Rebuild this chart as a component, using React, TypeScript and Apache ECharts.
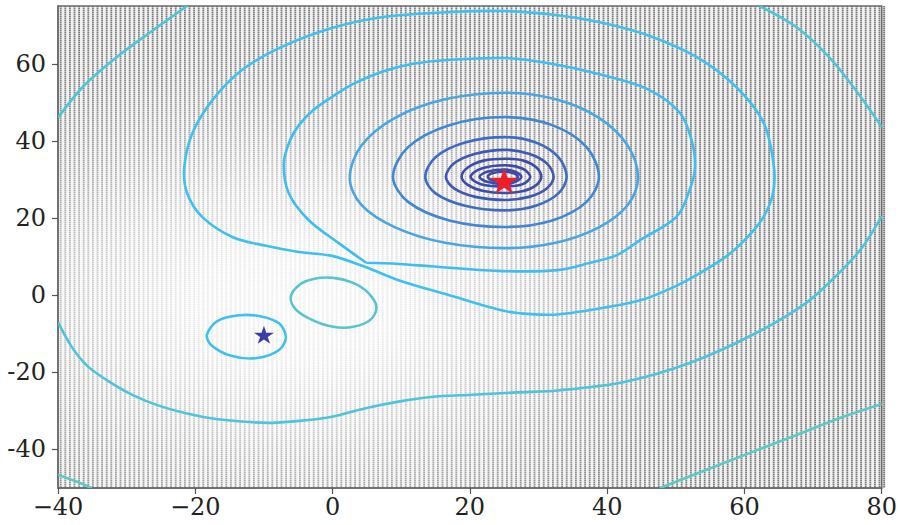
import React, { useEffect, useRef } from "react";
import * as echarts from "echarts";

// ---------- axis ranges & ticks ----------
const xRange = [-40, 80];
const yRange = [-50, 75];
const xTickStep = 20;
const yTickValues = [-40, -20, 0, 20, 40, 60];

// ---------- markers ----------
const redStar = [[25, 30]];
const blueStar = [[-10, -10]];

// ---------- contour lines (data coordinates) ----------
const lowerRightArc = [[47.7, -50], [57.0, -43.5], [66.5, -37.0], [74.3, -31.6], [80, -28.2]];
const bottomLeftArc = [[-40, -46.6], [-37.5, -48.2], [-35.1, -50]];
const topLeftArc = [[-40, 46.0], [-36.4, 54.0], [-31.4, 61.8], [-26.7, 68.0], [-21.2, 75]];
const topRightArc = [[62.2, 75], [67.5, 69.6], [72.3, 61.8], [76.2, 53.2], [80, 43.6]];
const lowerCurve = [
  [-40, -7.0], [-38.0, -13.4], [-35.7, -18.4], [-32.9, -22.0], [-29.1, -25.9], [-25.2, -28.7],
  [-20.9, -30.8], [-17.0, -32.1], [-12.2, -32.9], [-8.8, -33.1], [-4.9, -32.6], [-0.1, -31.5],
  [4.8, -29.3], [9.6, -27.6], [14.3, -26.4], [20.4, -25.8], [27.0, -25.2], [32.8, -24.7],
  [42.5, -22.5], [52.0, -17.6], [61.7, -9.8], [69.0, -2.0], [73.8, 5.8], [77.2, 12.5], [80, 20.5],
];
const ovalNearOrigin = [
  [-6.1, -0.5], [-4.9, 2.6], [-2.8, 4.2], [0.1, 4.5], [3.0, 3.2], [5.2, 0.6], [6.4, -3.1],
  [5.5, -6.4], [3.0, -8.2], [0.1, -8.2], [-3.0, -6.4], [-5.4, -3.6],
];
const ovalBlueStar = [
  [-18.3, -10.3], [-16.8, -6.7], [-13.6, -5.2], [-10.4, -5.5], [-7.8, -7.3], [-6.8, -10.9],
  [-7.8, -14.2], [-11.0, -16.3], [-14.8, -15.7], [-17.7, -12.9],
];
const ringC1 = [
  [-21.6, 33.2], [-20.4, 42.1], [-17.5, 50.6], [-13.2, 58.4], [-7.4, 64.4], [-0.1, 69.3],
  [7.1, 72.1], [16.8, 73.4], [25.1, 73.7], [32.8, 72.6], [38.6, 70.9], [45.8, 67.5],
  [53.0, 61.8], [58.8, 54.0], [62.8, 44.7], [64.3, 33.2], [64.1, 26.0], [62.5, 19.5],
  [59.6, 13.5], [57.0, 9.6], [53.0, 5.2], [49.7, 2.1], [45.1, -1.2], [40.0, -3.1],
  [32.8, -5.0], [28.8, -4.9], [25.1, -4.1], [16.8, 0.1], [9.6, 3.9], [4.8, 7.3],
  [-0.1, 10.2], [-4.9, 11.2], [-9.7, 12.8], [-14.6, 15.1], [-19.0, 20.3], [-21.2, 26.5],
];
// starts and ends at the cusp
const loopC2 = [
  [4.9, 8.4], [9.6, 8.1], [14.3, 7.5], [24.1, 6.3], [32.8, 6.5], [37.5, 8.4], [41.4, 10.4],
  [44.8, 14.3], [50.1, 20.3], [52.0, 27.2], [52.8, 33.2], [52.3, 40.2], [50.6, 47.3],
  [45.8, 53.5], [38.6, 57.4], [31.3, 60.2], [25.1, 61.5], [16.8, 61.0], [11.7, 60.0],
  [7.1, 57.9], [3.0, 54.8], [-0.1, 51.4], [-2.8, 48.0], [-4.9, 44.1], [-6.2, 40.2],
  [-7.1, 34.3], [-6.4, 26.5], [-3.5, 19.5], [0.9, 13.5], [4.9, 8.4],
];
const ringC3 = [
  [44.5, 30.4], [43.0, 38.8], [38.8, 46.0], [32.5, 50.8], [25.1, 52.5], [16.4, 50.8],
  [9.1, 46.0], [4.2, 38.8], [2.5, 30.4], [4.2, 23.4], [9.1, 17.6], [16.4, 13.6],
  [25.1, 12.2], [32.5, 13.6], [38.8, 17.6], [43.0, 23.4],
];
const ringC4 = [
  [38.8, 30.7], [37.0, 38.4], [32.0, 44.1], [25.1, 46.2], [17.0, 44.1], [11.0, 38.4],
  [8.8, 30.7], [11.0, 24.2], [17.0, 19.4], [25.1, 17.7], [32.0, 19.4], [37.0, 24.2],
];
const ringC5 = [
  [34.1, 30.7], [32.9, 35.8], [29.6, 39.6], [25.1, 41.0], [19.3, 39.6], [15.0, 35.8],
  [13.5, 30.7], [15.0, 26.4], [19.3, 23.2], [25.1, 22.0], [29.6, 23.2], [32.9, 26.4],
];
const ringC6 = [
  [32.2, 30.7], [31.2, 34.2], [28.6, 36.7], [25.1, 37.7], [20.8, 36.7], [17.7, 34.2],
  [16.5, 30.7], [17.7, 27.7], [20.8, 25.5], [25.1, 24.7], [28.6, 25.5], [31.2, 27.7],
];
const ringC7 = [
  [30.4, 30.7], [29.7, 33.1], [27.8, 34.9], [25.1, 35.4], [22.0, 34.9], [19.7, 33.1],
  [18.8, 30.7], [19.7, 28.6], [22.0, 27.0], [25.1, 26.5], [27.8, 27.0], [29.7, 28.6],
];
const ringC8 = [
  [28.8, 30.7], [27.7, 32.8], [25.1, 33.7], [21.6, 32.8], [20.1, 30.7], [21.6, 28.8],
  [25.1, 28.2], [27.7, 28.8],
];
const ringC9 = [
  [27.5, 30.7], [26.6, 32.0], [25.1, 32.6], [22.5, 32.0], [21.4, 30.7], [22.5, 29.4],
  [25.1, 28.8], [26.6, 29.4],
];
const ringC10 = [
  [27.0, 30.7], [26.4, 31.6], [25.1, 32.0], [23.2, 31.6], [22.6, 30.7], [23.2, 29.8],
  [25.1, 29.5], [26.4, 29.8],
];

// ---------- styling (kept apart from the data) ----------
const contourList = [
  { pts: lowerRightArc, closed: false, color: "#5ccac4" },
  { pts: bottomLeftArc, closed: false, color: "#5ccac4" },
  { pts: topLeftArc, closed: false, color: "#4cc6d6" },
  { pts: topRightArc, closed: false, color: "#4cc6d6" },
  { pts: lowerCurve, closed: false, color: "#4dc4dc" },
  { pts: ovalNearOrigin, closed: true, color: "#57c4d2" },
  { pts: ovalBlueStar, closed: true, color: "#3ec1ee" },
  { pts: ringC1, closed: true, color: "#3ec1ee" },
  { pts: loopC2, closed: false, color: "#3ebdf0" },
  { pts: ringC3, closed: true, color: "#47a6e4" },
  { pts: ringC4, closed: true, color: "#4187d2" },
  { pts: ringC5, closed: true, color: "#3f6cc2" },
  { pts: ringC6, closed: true, color: "#3f58b5" },
  { pts: ringC7, closed: true, color: "#3d4cab" },
  { pts: ringC8, closed: true, color: "#3d4aa8" },
  { pts: ringC9, closed: true, color: "#3d4aa8" },
  { pts: ringC10, closed: true, color: "#3d4aa8" },
];

const GRID = { left: 58, top: 6, width: 828, height: 482 };
const STAR_PATH =
  "path://M50 0 L61.17 34.63 L97.55 34.55 L68.07 55.87 L79.39 90.45 L50 69 L20.61 90.45 L31.93 55.87 L2.45 34.55 L38.83 34.63 Z";
const FONT = "DejaVu Serif";

function makeDotPattern() {
  const w = 23;
  const h = 2;
  const cv = document.createElement("canvas");
  cv.width = w;
  cv.height = h;
  const ctx = cv.getContext("2d");
  if (ctx) {
    ctx.fillStyle = "rgba(120,120,120,0.1)";
    ctx.fillRect(0, 0, w, h);
    ctx.fillStyle = "rgba(105,105,105,0.85)";
    for (let i = 0; i < 5; i++) ctx.fillRect(i * 4.6, 0, 1.8, 1.5);
  }
  return { image: cv.toDataURL(), repeat: "repeat", imageWidth: w, imageHeight: h };
}

export default function App() {
  const ref = useRef<HTMLDivElement>(null);

  useEffect(() => {
    if (!ref.current) return;
    const chart = echarts.init(ref.current, null, { renderer: "svg" });

    const shade = new echarts.graphic.RadialGradient(0.29, 0.62, 0.625, [
      { offset: 0, color: "rgba(255,255,255,0.9)" },
      { offset: 0.2, color: "rgba(255,255,255,0.84)" },
      { offset: 0.4, color: "rgba(255,255,255,0.62)" },
      { offset: 0.6, color: "rgba(255,255,255,0.34)" },
      { offset: 0.8, color: "rgba(255,255,255,0.1)" },
      { offset: 1, color: "rgba(255,255,255,0)" },
    ]);

    const fmtX = (v: number) => (v < 0 ? "\u2212" + Math.abs(v) : String(v));

    chart.setOption({
      animation: false,
      backgroundColor: "#ffffff",
      grid: {
        left: GRID.left,
        top: GRID.top,
        width: GRID.width,
        height: GRID.height,
        show: true,
        borderColor: "#6a6a6a",
        borderWidth: 1.5,
        backgroundColor: "transparent",
      },
      graphic: [
        {
          type: "rect",
          z: -2,
          silent: true,
          shape: { x: GRID.left, y: GRID.top, width: GRID.width, height: GRID.height },
          style: { fill: makeDotPattern() as any },
        },
        {
          type: "rect",
          z: -1,
          silent: true,
          shape: { x: GRID.left, y: GRID.top, width: GRID.width, height: GRID.height },
          style: { fill: shade as any },
        },
      ],
      xAxis: {
        type: "value",
        min: xRange[0],
        max: xRange[1],
        interval: xTickStep,
        splitLine: { show: false },
        axisLine: { show: true, onZero: false, lineStyle: { color: "#6a6a6a", width: 1.5 } },
        axisTick: { show: true, inside: false, length: 6, lineStyle: { color: "#555", width: 1.2 } },
        axisLabel: { margin: 7, fontFamily: FONT, fontSize: 24, color: "#222", formatter: fmtX },
      },
      yAxis: {
        type: "value",
        min: yRange[0],
        max: yRange[1],
        splitLine: { show: false },
        axisLine: { show: true, onZero: false, lineStyle: { color: "#6a6a6a", width: 1.5 } },
        axisTick: {
          show: true,
          inside: false,
          length: 6,
          customValues: yTickValues,
          lineStyle: { color: "#555", width: 1.2 },
        },
        axisLabel: {
          margin: 12,
          fontFamily: FONT,
          fontSize: 24,
          color: "#222",
          customValues: yTickValues,
        },
      },
      series: [
        {
          type: "custom",
          coordinateSystem: "cartesian2d",
          clip: true,
          silent: true,
          z: 3,
          data: contourList.map((_, i) => [i, 0]),
          encode: { x: 0, y: 1 },
          renderItem: (params: any, api: any) => {
            const c = contourList[params.dataIndex];
            const pts = c.pts.map((p) => api.coord(p));
            return {
              type: c.closed ? "polygon" : "polyline",
              shape: { points: pts, smooth: 0.33 },
              style: { stroke: c.color, lineWidth: 2.6, fill: "none" },
            };
          },
        },
        {
          type: "scatter",
          z: 5,
          silent: true,
          symbol: STAR_PATH,
          symbolSize: [20, 18],
          symbolOffset: [0, 1],
          itemStyle: { color: "#3a3fa8", opacity: 1 },
          data: blueStar,
        },
        {
          type: "scatter",
          z: 5,
          silent: true,
          symbol: STAR_PATH,
          symbolSize: [28, 26],
          symbolOffset: [0, 1.4],
          itemStyle: { color: "#ee1f2b", opacity: 1 },
          data: redStar,
        },
      ],
    });

    return () => chart.dispose();
  }, []);

  return (
    <div
      ref={ref}
      style={{ position: "absolute", left: 0, top: 0, width: 900, height: 525 }}
    />
  );
}
